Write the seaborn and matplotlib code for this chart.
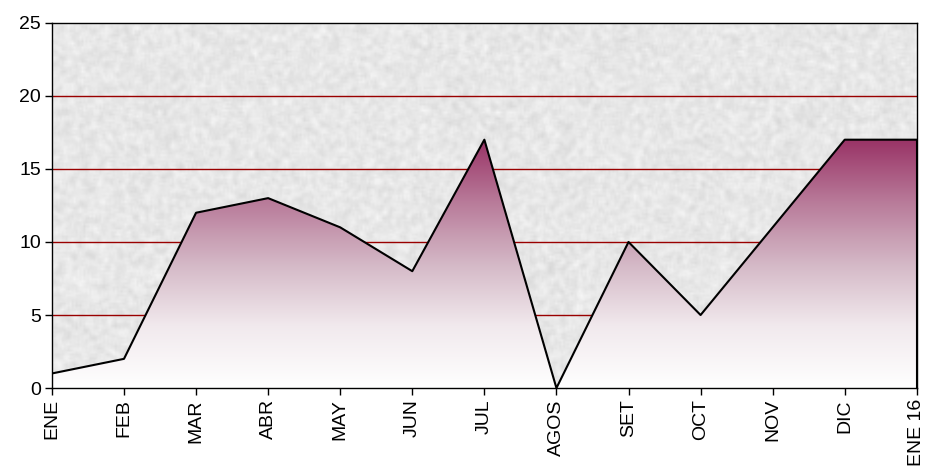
import numpy as np
import pandas as pd
import matplotlib
matplotlib.use("Agg")
import matplotlib.pyplot as plt
import seaborn as sns
from matplotlib.colors import LinearSegmentedColormap
from matplotlib.patches import Polygon

sns.set_style("white")
plt.rcParams['font.family'] = ['Liberation Sans', 'DejaVu Sans']

# Data
meses = ["ENE", "FEB", "MAR", "ABR", "MAY", "JUN", "JUL", "AGOS",
         "SET", "OCT", "NOV", "DIC", "ENE 16"]
valores = [1, 2, 12, 13, 11, 8, 17, 0, 10, 5, 11, 17, 17]

df = pd.DataFrame({"pos": range(len(meses)), "mes": meses, "valor": valores})

fig = plt.figure(figsize=(9.27, 4.75), dpi=100)
ax = fig.add_axes([0.056, 0.183, 0.933, 0.769])
n = len(meses) - 1
ax.set_xlim(0, n)
ax.set_ylim(0, 25)

# granite-like background texture (decoration only)
rng = np.random.default_rng(3)
noise = rng.random((180, 440))
k = np.ones(3) / 3
noise = np.apply_along_axis(lambda r: np.convolve(r, k, mode="same"), 1, noise)
noise = np.apply_along_axis(lambda c: np.convolve(c, k, mode="same"), 0, noise)
noise = (noise - noise.min()) / (noise.max() - noise.min())
tex = 0.975 - 0.13 * noise
ax.imshow(tex, cmap="gray", vmin=0, vmax=1, extent=[0, n, 0, 25],
          aspect="auto", zorder=0, interpolation="bilinear")

# red gridlines
for y in [5, 10, 15, 20]:
    ax.axhline(y, color="#990000", lw=1, zorder=1)

# gradient area under the line
top = max(valores)
cmap = LinearSegmentedColormap.from_list(
    "mar", ["#ffffff", "#f1e9ed", "#d4b8c6", "#b87a99", "#993366"])
grad = np.linspace(0, 1, 256).reshape(-1, 1)
img = ax.imshow(grad, cmap=cmap, extent=[0, n, 0, top], origin="lower",
                aspect="auto", zorder=2)
verts = [(0, 0)] + list(zip(df["pos"], df["valor"])) + [(n, 0)]
clip = Polygon(verts, closed=True, transform=ax.transData, facecolor="none",
               edgecolor="none")
ax.add_patch(clip)
img.set_clip_path(clip)

sns.lineplot(data=df, x="pos", y="valor", color="black", lw=1.5, ax=ax,
             zorder=3)
ax.vlines(n, 0, valores[-1], color="black", lw=1.5, zorder=3)

ax.set_xticks(range(len(meses)))
ax.set_xticklabels(meses, rotation=90, fontsize=14)
ax.set_yticks(range(0, 26, 5))
ax.tick_params(axis="y", labelsize=14)
ax.tick_params(axis="both", direction="out", length=5, width=1, color="black",
               labelcolor="black", bottom=True, left=True, pad=3)
ax.set_xlabel("")
ax.set_ylabel("")
for s in ax.spines.values():
    s.set_color("black")
    s.set_linewidth(1)
    s.set_zorder(4)

fig.savefig("out.png", dpi=100)
